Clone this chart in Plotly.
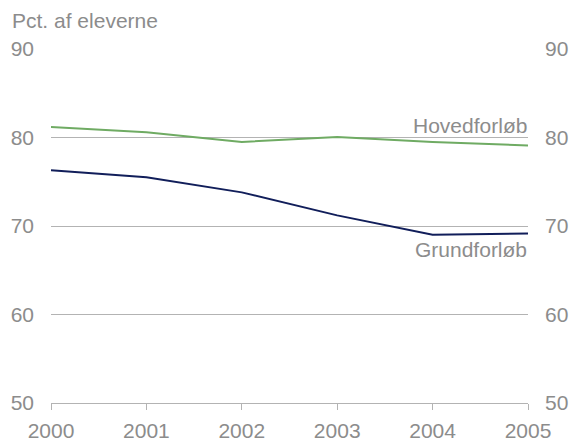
import plotly.graph_objects as go

years = [2000, 2001, 2002, 2003, 2004, 2005]
hovedforlob = [81.2, 80.6, 79.5, 80.05, 79.5, 79.1]
grundforlob = [76.3, 75.5, 73.8, 71.2, 69.0, 69.15]
y_ticks = [50, 60, 70, 80, 90]
title_text = "Pct. af eleverne"

GRAY = "#8c8c8c"
GRID = "#b3b3b3"
FONT = "Liberation Sans, Arial, sans-serif"
FS = 21

fig = go.Figure()
fig.add_trace(go.Scatter(x=years, y=hovedforlob, mode="lines",
                         line=dict(color="#6fab63", width=2), showlegend=False))
fig.add_trace(go.Scatter(x=years, y=grundforlob, mode="lines",
                         line=dict(color="#111e5a", width=2), showlegend=False))
# invisible trace for right axis
fig.add_trace(go.Scatter(x=years, y=grundforlob, yaxis="y2", mode="lines",
                         line=dict(width=0), hoverinfo="skip", showlegend=False, opacity=0))

fig.update_layout(
    width=569, height=442,
    margin=dict(l=51, r=41, t=49, b=39),
    paper_bgcolor="white", plot_bgcolor="white",
    font=dict(family=FONT, size=FS, color=GRAY),
    xaxis=dict(range=[2000, 2005], tickvals=years, ticktext=[str(y) for y in years],
               showgrid=False, zeroline=False, showline=True, linecolor=GRID, linewidth=1,
               ticks="outside", ticklen=6, tickcolor=GRID, tickwidth=1, automargin=False,
               ticklabelstandoff=3, tickfont=dict(size=FS, color=GRAY)),
    yaxis=dict(range=[50, 90], tickvals=y_ticks, showgrid=True, gridcolor=GRID, gridwidth=1,
               zeroline=False, showline=False, ticks="", ticklabelstandoff=16, automargin=False,
               tickfont=dict(size=FS, color=GRAY)),
    yaxis2=dict(range=[50, 90], tickvals=y_ticks, overlaying="y", side="right",
                showgrid=False, zeroline=False, showline=False, ticks="", automargin=False,
                ticklabelstandoff=16, tickfont=dict(size=FS, color=GRAY)),
    annotations=[
        dict(text=title_text, xref="paper", yref="paper", x=0, y=1,
             xanchor="left", yanchor="middle", showarrow=False,
             font=dict(size=FS, color=GRAY), xshift=-41, yshift=29),
        dict(text="Hovedforløb", x=2005, y=80, xref="x", yref="y", xanchor="right",
             yanchor="bottom", showarrow=False, yshift=-1, xshift=1,
             font=dict(size=FS, color=GRAY)),
        dict(text="Grundforløb", x=2005, y=70, xref="x", yref="y", xanchor="right",
             yanchor="top", showarrow=False, yshift=-10, xshift=1,
             font=dict(size=FS, color=GRAY)),
    ],
)

fig.write_html("out.html", config={"displayModeBar": False},
               post_script="document.body.style.margin='0';")
